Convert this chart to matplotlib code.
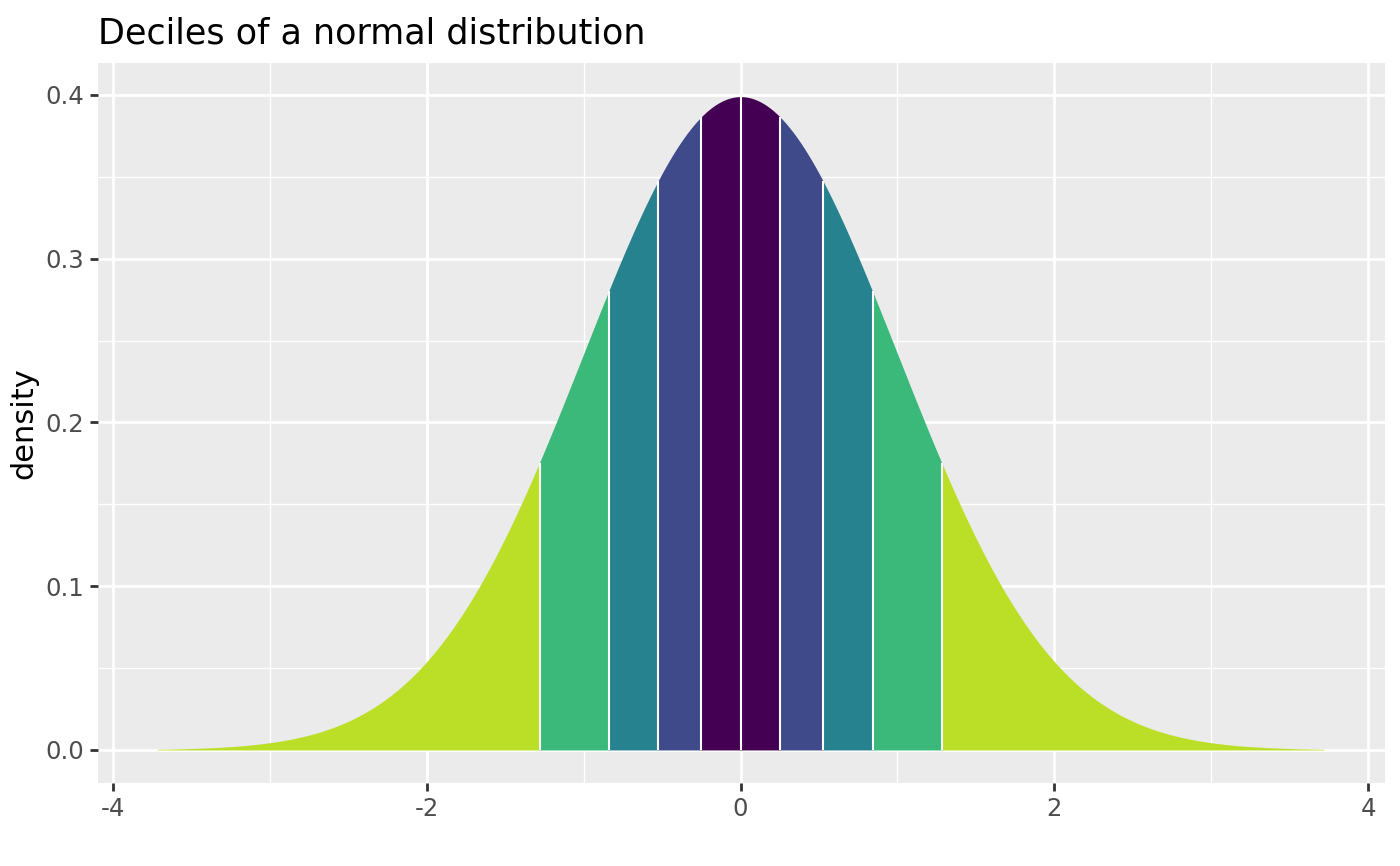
import numpy as np
import matplotlib
matplotlib.use("Agg")
import matplotlib.pyplot as plt
from matplotlib.ticker import FixedLocator

# decile cut points of the standard normal
breaks = [-3.719, -1.2816, -0.8416, -0.5244, -0.2533, 0.0,
          0.2533, 0.5244, 0.8416, 1.2816, 3.719]
# colour level of each band (outer bands -> level 4, centre -> level 0)
band_level = [4, 3, 2, 1, 0, 0, 1, 2, 3, 4]
level_colors = ["#440154", "#3E4A89", "#26828E", "#3BB97A", "#BBDF27"]

x_ticks = [-4, -2, 0, 2, 4]
x_minor = [-3, -1, 1, 3]
y_ticks = [0.0, 0.1, 0.2, 0.3, 0.4]
y_minor = [0.05, 0.15, 0.25, 0.35]


def dnorm(x):
    return np.exp(-0.5 * x ** 2) / np.sqrt(2 * np.pi)


plt.rcParams["axes.unicode_minus"] = False
plt.rcParams["font.family"] = ["DejaVu Sans"]

fig = plt.figure(figsize=(7, 4.33), dpi=200)
ax = fig.add_axes([0.07, 0.0958, 0.9193, 0.8315])
ax.set_facecolor("#EBEBEB")

# filled bands
for i in range(len(breaks) - 1):
    xs = np.linspace(breaks[i], breaks[i + 1], 200)
    ax.fill_between(xs, 0, dnorm(xs), color=level_colors[band_level[i]],
                    linewidth=0, zorder=3)

# white separators between bands
inner = breaks[1:-1]
ax.vlines(inner, 0, dnorm(np.array(inner)), colors="white",
          linewidth=0.75, zorder=4)

ax.set_xlim(-4.096, 4.108)
ax.set_ylim(-0.0202, 0.4195)

ax.xaxis.set_major_locator(FixedLocator(x_ticks))
ax.xaxis.set_minor_locator(FixedLocator(x_minor))
ax.yaxis.set_major_locator(FixedLocator(y_ticks))
ax.yaxis.set_minor_locator(FixedLocator(y_minor))
ax.set_xticklabels([str(v) for v in x_ticks])
ax.set_yticklabels([f"{v:.1f}" for v in y_ticks])

ax.grid(which="major", color="white", linewidth=1.0, zorder=1)
ax.grid(which="minor", color="white", linewidth=0.5, zorder=1)
ax.set_axisbelow(True)

for s in ax.spines.values():
    s.set_visible(False)

ax.tick_params(which="major", length=2.75, width=1.0, color="#333333",
               labelsize=8.8, labelcolor="#4D4D4D", pad=2.2)
ax.tick_params(which="minor", length=0)

ax.set_ylabel("density", fontsize=11, color="black", labelpad=2.5)
ax.set_title("Deciles of a normal distribution", fontsize=12.6,
             loc="left", pad=7)

fig.savefig("out.png", dpi=200)
